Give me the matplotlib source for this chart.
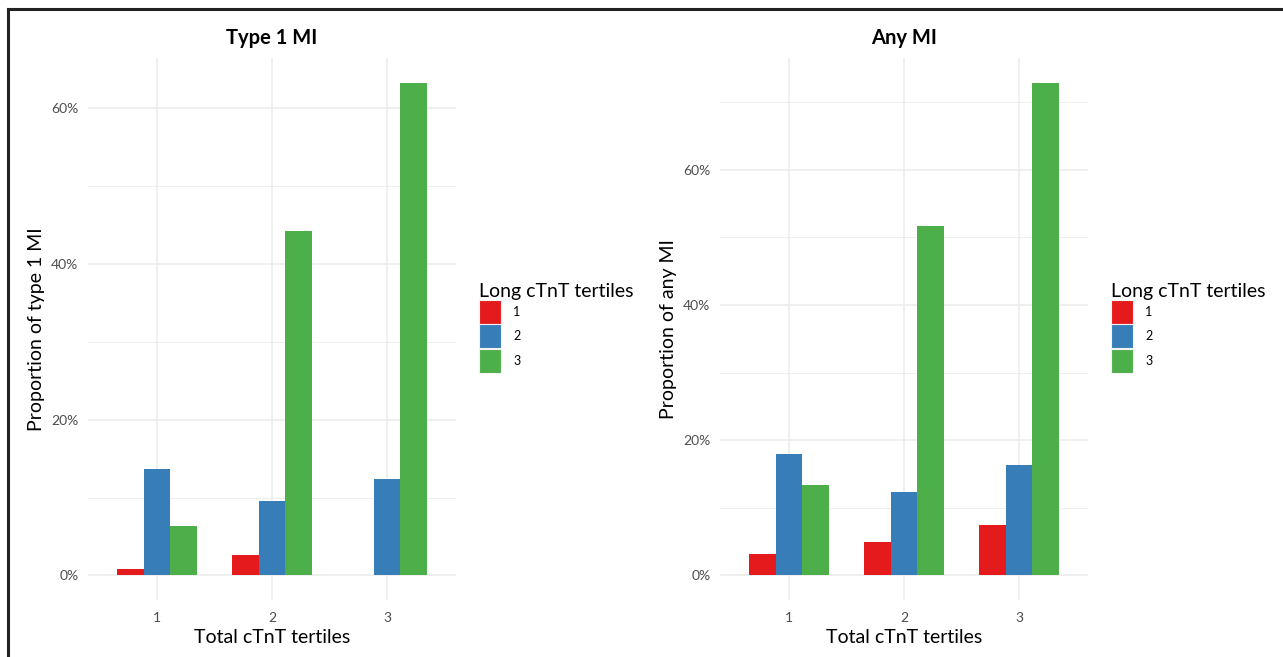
import numpy as np
import matplotlib.pyplot as plt
from matplotlib.patches import Patch
from matplotlib.ticker import FuncFormatter, MultipleLocator

# data (percent)
total_tertiles = ["1", "2", "3"]
long_tertiles = ["1", "2", "3"]
colours = ["#E41A1C", "#377EB8", "#4DAF4A"]

type1_long1 = [0.8, 2.6, 0.0]
type1_long2 = [13.7, 9.6, 12.4]
type1_long3 = [6.4, 44.2, 63.3]

any_long1 = [3.1, 4.9, 7.4]
any_long2 = [17.9, 12.3, 16.4]
any_long3 = [13.3, 51.7, 72.9]

plt.rcParams['font.family'] = ['Lato', 'DejaVu Sans']

fig = plt.figure(figsize=(12.83, 6.57), dpi=100)
# outer frame (top and left edges visible in the reference)
fig.add_artist(plt.Line2D([0.006, 1.0], [0.986, 0.986], color="#222222", lw=2.2))
fig.add_artist(plt.Line2D([0.006, 0.006], [0.0, 0.986], color="#222222", lw=2.2))


def panel(ax, series, title, ylabel, minor_max):
    x = np.arange(1, 4)
    w = 0.7 / 3
    for i, vals in enumerate(series):
        ax.bar(x + (i - 1) * w, vals, width=w, color=colours[i], zorder=3)
    top = max(max(s) for s in series)
    pad = top * 0.05
    ax.set_ylim(-pad, top + pad)
    ax.set_xlim(0.4, 3.6)
    ax.set_xticks(x)
    ax.set_xticklabels(total_tertiles)
    ax.yaxis.set_major_locator(MultipleLocator(20))
    ax.yaxis.set_major_formatter(FuncFormatter(lambda v, p: f"{v:.0f}%"))
    for m in np.arange(10, minor_max + 1, 20):
        ax.axhline(m, color="#EBEBEB", lw=0.6, zorder=1)
    ax.grid(True, color="#EBEBEB", lw=1.1, zorder=1)
    for s in ax.spines.values():
        s.set_visible(False)
    ax.tick_params(length=0, labelsize=10, labelcolor="#4D4D4D", pad=7)
    ax.tick_params(axis="x", pad=9)
    ax.set_title(title, fontsize=14.5, fontweight="bold", pad=10)
    ax.set_xlabel("Total cTnT tertiles", fontsize=14, labelpad=3)
    ax.set_ylabel(ylabel, fontsize=14, labelpad=4)
    handles = [Patch(facecolor=c, edgecolor="#F2F2F2", lw=0.8) for c in colours]
    leg = ax.legend(handles, long_tertiles, title="Long cTnT tertiles",
                    loc="upper left", bbox_to_anchor=(1.05, 0.595), frameon=False,
                    fontsize=9, title_fontsize=14, handlelength=1.7, handleheight=2.6,
                    labelspacing=0.02, handletextpad=1.0, borderaxespad=0)
    leg._legend_box.align = "left"


ax1 = fig.add_axes([88 / 1283, 1 - 600 / 657, 368 / 1283, 542 / 657])
ax2 = fig.add_axes([720 / 1283, 1 - 600 / 657, 368 / 1283, 542 / 657])

panel(ax1, [type1_long1, type1_long2, type1_long3], "Type 1 MI", "Proportion of type 1 MI", 50)
panel(ax2, [any_long1, any_long2, any_long3], "Any MI", "Proportion of any MI", 70)

fig.savefig("out.png", dpi=100)
